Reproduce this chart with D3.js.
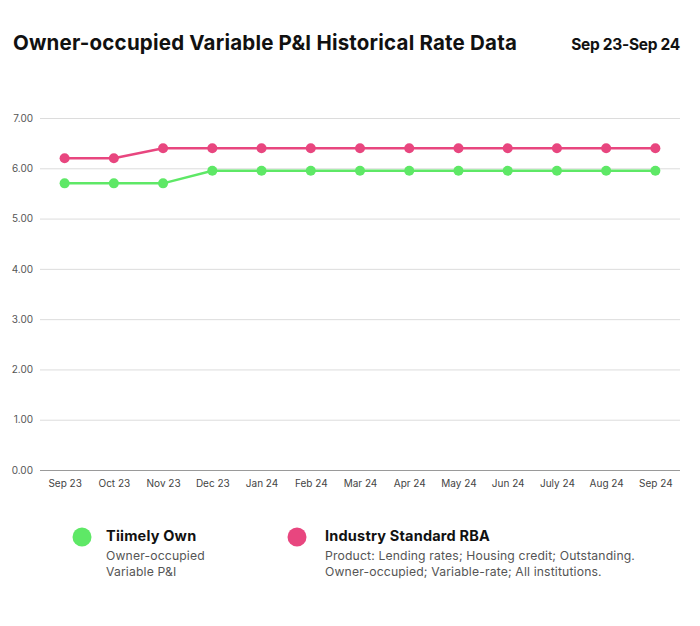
<!DOCTYPE html>
<html>
<head>
<meta charset="utf-8">
<script src="https://cdn.jsdelivr.net/npm/d3@7"></script>
<style>
  body { margin: 0; background: #fff; }
  svg { display: block; font-family: "Inter", "Noto Sans", sans-serif; }
</style>
</head>
<body>
<svg id="chart" width="700" height="626"></svg>
<script>
const months = ["Sep 23","Oct 23","Nov 23","Dec 23","Jan 24","Feb 24","Mar 24","Apr 24","May 24","Jun 24","July 24","Aug 24","Sep 24"];
const tiimelyRates = [5.70,5.70,5.70,5.95,5.95,5.95,5.95,5.95,5.95,5.95,5.95,5.95,5.95];
const rbaRates = [6.20,6.20,6.40,6.40,6.40,6.40,6.40,6.40,6.40,6.40,6.40,6.40,6.40];
const yTicks = [0,1,2,3,4,5,6,7];

const svg = d3.select("#chart");
const green = "#5ee866", pink = "#e8467f";

svg.append("text").attr("x", 13).attr("y", 50)
  .attr("font-size", 20.5).attr("font-weight", 700).attr("fill", "#111")
  .attr("letter-spacing", 0.2)
  .text("Owner-occupied Variable P&I Historical Rate Data");
svg.append("text").attr("x", 680).attr("y", 50).attr("text-anchor", "end")
  .attr("font-size", 15.5).attr("font-weight", 700).attr("fill", "#111")
  .attr("letter-spacing", -0.3)
  .text("Sep 23-Sep 24");

const plotLeft = 40, plotRight = 680, plotTop = 118, plotBottom = 470;
const x = d3.scalePoint().domain(months).range([plotLeft, plotRight]).padding(0.5);
const y = d3.scaleLinear().domain([0, 7]).range([plotBottom, plotTop]);

// grid
const yAxis = svg.append("g").attr("transform", `translate(${plotLeft},0)`)
  .call(d3.axisLeft(y).tickValues(yTicks).tickFormat(d3.format(".2f")).tickSize(-(plotRight - plotLeft)).tickPadding(7));
yAxis.select(".domain").remove();
yAxis.selectAll(".tick line").attr("stroke", d => d === 0 ? "#9a9a9a" : "#dcdcdc").attr("stroke-width", d => d === 0 ? 1.2 : 1);
yAxis.selectAll(".tick text").attr("fill", "#555").attr("font-size", 10).attr("font-family", "Inter, sans-serif");

const xAxis = svg.append("g").attr("transform", `translate(0,${plotBottom})`)
  .call(d3.axisBottom(x).tickSize(0).tickPadding(10));
xAxis.select(".domain").remove();
xAxis.selectAll(".tick text").attr("fill", "#444").attr("font-size", 10).attr("font-family", "Inter, sans-serif");

function series(vals, color) {
  const line = d3.line().x((d, i) => x(months[i])).y(d => y(d));
  svg.append("path").datum(vals).attr("d", line)
    .attr("fill", "none").attr("stroke", color).attr("stroke-width", 2.5);
  svg.append("g").selectAll("circle").data(vals).join("circle")
    .attr("cx", (d, i) => x(months[i])).attr("cy", d => y(d)).attr("r", 5)
    .attr("fill", color);
}
series(tiimelyRates, green);
series(rbaRates, pink);

// legend
const legend = [
  {cx: 82, tx: 106, color: green, title: "Tiimely Own", lines: ["Owner-occupied", "Variable P&I"]},
  {cx: 297, tx: 325, color: pink, title: "Industry Standard RBA", lines: ["Product: Lending rates; Housing credit; Outstanding.", "Owner-occupied; Variable-rate; All institutions."]}
];
legend.forEach(l => {
  svg.append("circle").attr("cx", l.cx).attr("cy", 537).attr("r", 9.5).attr("fill", l.color);
  svg.append("text").attr("x", l.tx).attr("y", 541).attr("font-size", 14.5).attr("font-weight", 700)
    .attr("letter-spacing", 0.2).attr("fill", "#111").text(l.title);
  l.lines.forEach((t, i) => {
    svg.append("text").attr("x", l.tx).attr("y", 560 + i * 16).attr("font-size", 12.2)
      .attr("letter-spacing", 0.15).attr("fill", "#555").text(t);
  });
});
</script>
</body>
</html>
